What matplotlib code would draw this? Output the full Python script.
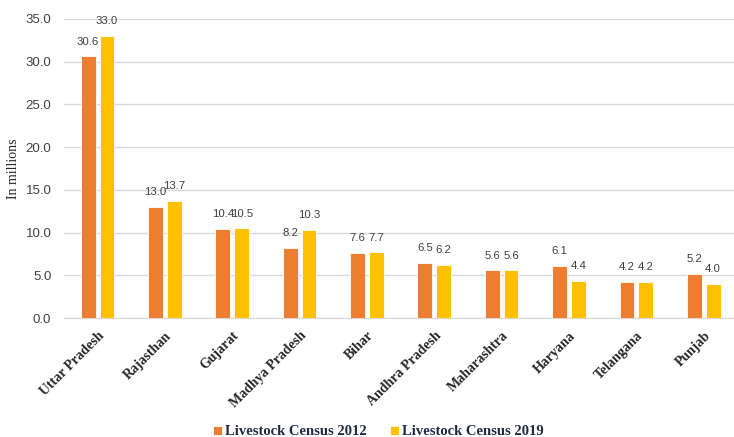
import numpy as np
import matplotlib
matplotlib.use("Agg")
from matplotlib import pyplot as plt

states = ["Uttar Pradesh", "Rajasthan", "Gujarat", "Madhya Pradesh", "Bihar",
          "Andhra Pradesh", "Maharashtra", "Haryana", "Telangana", "Punjab"]
census_2012 = [30.6, 13.0, 10.4, 8.2, 7.6, 6.5, 5.6, 6.1, 4.2, 5.2]
census_2019 = [33.0, 13.7, 10.5, 10.3, 7.7, 6.2, 5.6, 4.4, 4.2, 4.0]

fig = plt.figure(figsize=(7.34, 4.37), dpi=100)
ax = fig.add_axes([0.087, 0.272, 0.913, 0.685])

x = np.arange(len(states))
w = 0.22
b1 = ax.bar(x - 0.14, census_2012, w, color="#ED7D31", edgecolor="white", linewidth=0.6,
            label="Livestock Census 2012", zorder=3)
b2 = ax.bar(x + 0.14, census_2019, w, color="#FFC000", edgecolor="white", linewidth=0.6,
            label="Livestock Census 2019", zorder=3)

for bars in (b1, b2):
    for r in bars:
        ax.annotate(f"{r.get_height():.1f}", (r.get_x() + r.get_width() / 2, r.get_height()),
                    xytext=(0, 7), textcoords="offset points", ha="center", va="bottom",
                    fontsize=8.2, color="#404040", family="Liberation Sans", annotation_clip=False)

ax.set_ylim(0, 35)
ax.set_xlim(-0.5, 9.45)
ax.set_yticks(np.arange(0, 35.1, 5))
ax.set_yticklabels([f"{v:.1f}" for v in np.arange(0, 35.1, 5)], family="Liberation Sans",
                   fontsize=9.5, color="#404040")
ax.yaxis.grid(True, color="#D9D9D9", linewidth=1, zorder=0)
ax.set_axisbelow(True)
for s in ["top", "right", "left"]:
    ax.spines[s].set_visible(False)
ax.spines["bottom"].set_color("#D9D9D9")
ax.tick_params(axis="both", length=0)
ax.tick_params(axis="y", pad=9)

ax.set_xticks(x)
ax.set_xticklabels(states, rotation=45, ha="right", rotation_mode="anchor",
                   family="Liberation Serif", fontweight="bold", fontsize=10, color="#262626")
ax.tick_params(axis="x", pad=8)

ax.set_ylabel("In millions", family="Liberation Serif", fontsize=10, color="#262626", labelpad=4)

ax.legend(loc="center", bbox_to_anchor=(0.469, -0.38), ncol=2, frameon=False,
          prop={"family": "Liberation Serif", "weight": "bold", "size": 10.5},
          handlelength=0.6, handleheight=0.6, handletextpad=0.2, columnspacing=1.6,
          labelcolor="#1F2A44")

plt.savefig("out.png", dpi=100)
